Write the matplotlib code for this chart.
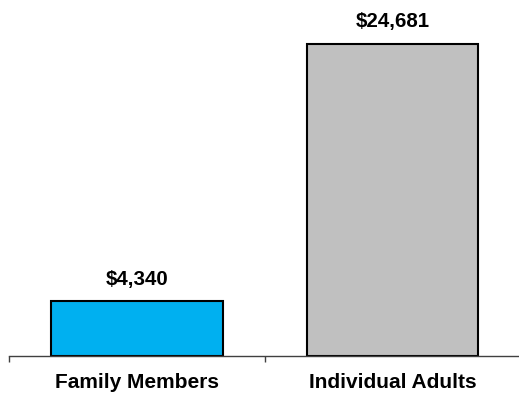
import matplotlib.pyplot as plt

groups = ["Family Members", "Individual Adults"]
amounts = [4340, 24681]
colors = ["#00B0F0", "#C0C0C0"]

plt.rcParams["font.family"] = ["Liberation Sans", "DejaVu Sans"]

fig = plt.figure(figsize=(5.19, 3.94), dpi=100)
ax = fig.add_axes([9 / 519, 38 / 394, 509 / 519, 354 / 394])

x = range(len(groups))
bars = ax.bar(x, amounts, width=0.67, color=colors, edgecolor="black", linewidth=1.5)

# value labels above each bar
for b, v in zip(bars, amounts):
    ax.annotate(f"${v:,}", (b.get_x() + b.get_width() / 2, v),
                xytext=(0, 9), textcoords="offset points",
                ha="center", va="bottom", fontsize=14.8, fontweight="bold")

ax.set_xlim(-0.5, 1.49)
ax.set_ylim(0, 28000)
ax.set_xticks(list(x))
ax.set_xticklabels(groups, fontsize=15, fontweight="bold")
ax.tick_params(axis="x", which="major", length=0, pad=12)
ax.set_xticks([-0.5, 0.5], minor=True)
ax.tick_params(axis="x", which="minor", length=4, width=1, color="#404040")
ax.set_yticks([])
for s in ["top", "right", "left"]:
    ax.spines[s].set_visible(False)
ax.spines["bottom"].set_color("#404040")
ax.spines["bottom"].set_linewidth(1)

fig.savefig("out.png", dpi=100)
